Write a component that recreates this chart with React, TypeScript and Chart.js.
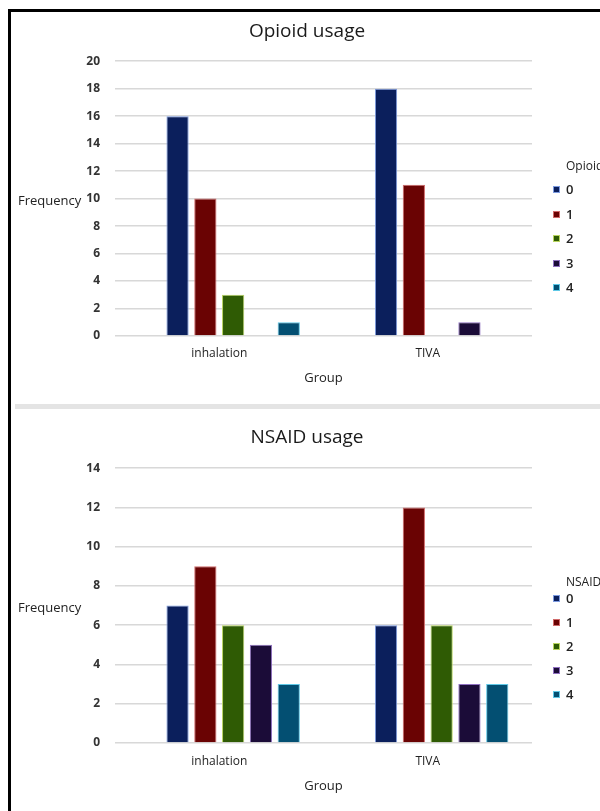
import React, { useEffect, useRef } from 'react';
import { Chart, registerables } from 'chart.js';

Chart.register(...registerables);

// ---- data ----
const groupLabels = ['inhalation', 'TIVA'];
const levelLabels = ['0', '1', '2', '3', '4'];

const opioidLevel0 = [16, 18];
const opioidLevel1 = [10, 11];
const opioidLevel2 = [3, 0];
const opioidLevel3 = [0, 1];
const opioidLevel4 = [1, 0];

const nsaidLevel0 = [7, 6];
const nsaidLevel1 = [9, 12];
const nsaidLevel2 = [6, 6];
const nsaidLevel3 = [5, 3];
const nsaidLevel4 = [3, 3];

const opioidYMax = 20;
const nsaidYMax = 14;
const yStep = 2;

const xAxisTitle = 'Group';
const yAxisTitle = 'Frequency';

// ---- styles ----
const fillColors = ['#0b1f5c', '#6a0303', '#2f5b04', '#1b0c38', '#034f72'];
const edgeColors = ['#7d9be0', '#d06a6a', '#b9d460', '#8f70c0', '#5fc8e6'];
const FONT = "'Open Sans', 'DejaVu Sans', sans-serif";

type PanelProps = {
  top: number;
  height: number;
  title: string;
  series: number[][];
  yMax: number;
  titlePad: { top: number; bottom: number };
  tickPad: number;
  axisTitlePad: { top: number; bottom: number };
  legendTitle: string;
  legendTitleY: number;
  legendFirstY: number;
  legendStep: number;
  freqY: number;
};

function Panel(p: PanelProps) {
  const ref = useRef<HTMLCanvasElement | null>(null);

  useEffect(() => {
    if (!ref.current) return;
    const datasets: any[] = [
      // empty leading slot (keeps the SPSS-style offset of the clusters)
      { label: '', data: groupLabels.map(() => null), backgroundColor: 'rgba(0,0,0,0)' },
      ...p.series.map((vals, i) => ({
        label: levelLabels[i],
        data: vals,
        backgroundColor: fillColors[i],
        borderColor: edgeColors[i],
        borderWidth: 1,
        borderSkipped: 'bottom',
      })),
    ];
    const chart = new Chart(ref.current, {
      type: 'bar',
      data: { labels: groupLabels, datasets },
      options: {
        animation: false,
        responsive: false,
        devicePixelRatio: 1,
        layout: { padding: { left: 71, right: 71, top: 0, bottom: 0 } },
        datasets: { bar: { categoryPercentage: 0.8, barPercentage: 0.8 } },
        plugins: {
          legend: { display: false },
          tooltip: { enabled: false },
          title: {
            display: true,
            text: p.title,
            color: '#1a1a1a',
            font: { family: FONT, size: 19, weight: 'normal' },
            padding: p.titlePad,
          },
        },
        scales: {
          x: {
            grid: { display: false, drawTicks: false },
            border: { display: false },
            ticks: {
              color: '#222',
              padding: p.tickPad,
              font: { family: FONT, size: 12 },
            },
            title: {
              display: true,
              text: xAxisTitle,
              color: '#222',
              font: { family: FONT, size: 13 },
              padding: p.axisTitlePad,
            },
          },
          y: {
            min: 0,
            max: p.yMax,
            afterFit: (scale: any) => {
              scale.width = 33;
            },
            grid: { color: '#d8d8d8', lineWidth: 1.5, drawTicks: false },
            border: { display: false },
            ticks: {
              stepSize: yStep,
              color: '#333',
              padding: 15,
              font: { family: FONT, size: 12, weight: 'bold' },
            },
          },
        },
      },
    });
    return () => chart.destroy();
  }, []);

  const textStyle: React.CSSProperties = {
    position: 'absolute',
    fontFamily: FONT,
    fontSize: 13,
    lineHeight: '16px',
    color: '#222',
    whiteSpace: 'nowrap',
  };

  return (
    <>
      <div style={{ position: 'absolute', left: 0, top: p.top - 12, width: 592, height: p.height }}>
        <canvas ref={ref} width={592} height={p.height} style={{ display: 'block' }} />
      </div>
      <div style={{ ...textStyle, left: 7, top: p.freqY - 20 }}>{yAxisTitle}</div>
      <div style={{ ...textStyle, fontSize: 12, left: 555, top: p.legendTitleY - 20 }}>{p.legendTitle}</div>
      {levelLabels.map((lab, i) => {
        const cy = p.legendFirstY + i * p.legendStep;
        return (
          <React.Fragment key={lab}>
            <div
              style={{
                position: 'absolute',
                left: 542,
                top: cy - 12 - 3,
                width: 7,
                height: 7,
                background: fillColors[i],
                border: `1px solid ${edgeColors[i]}`,
                boxSizing: 'border-box',
              }}
            />
            <div style={{ ...textStyle, left: 555, top: cy - 20, fontWeight: 600 }}>{lab}</div>
          </React.Fragment>
        );
      })}
    </>
  );
}

export default function App() {
  return (
    <div
      style={{
        position: 'absolute',
        left: 8,
        top: 9,
        width: 592,
        height: 802,
        boxSizing: 'border-box',
        borderLeft: '3px solid #000',
        borderTop: '3px solid #000',
        overflow: 'hidden',
        background: '#fff',
      }}
    >
      <Panel
        top={12}
        height={391}
        title="Opioid usage"
        series={[opioidLevel0, opioidLevel1, opioidLevel2, opioidLevel3, opioidLevel4]}
        yMax={opioidYMax}
        titlePad={{ top: 8, bottom: 18.4 }}
        tickPad={10.8}
        axisTitlePad={{ top: -1.8, bottom: 17.2 }}
        legendTitle="Opioid"
        legendTitleY={166}
        legendFirstY={189.3}
        legendStep={24.5}
        freqY={200}
      />
      <div style={{ position: 'absolute', left: 4, top: 392, width: 585, height: 5, background: '#e4e4e4' }} />
      <Panel
        top={410}
        height={401}
        title="NSAID usage"
        series={[nsaidLevel0, nsaidLevel1, nsaidLevel2, nsaidLevel3, nsaidLevel4]}
        yMax={nsaidYMax}
        titlePad={{ top: 16.2, bottom: 19.2 }}
        tickPad={11.8}
        axisTitlePad={{ top: -2.8, bottom: 17.2 }}
        legendTitle="NSAID"
        legendTitleY={582}
        legendFirstY={597.7}
        legendStep={24}
        freqY={607}
      />
    </div>
  );
}
